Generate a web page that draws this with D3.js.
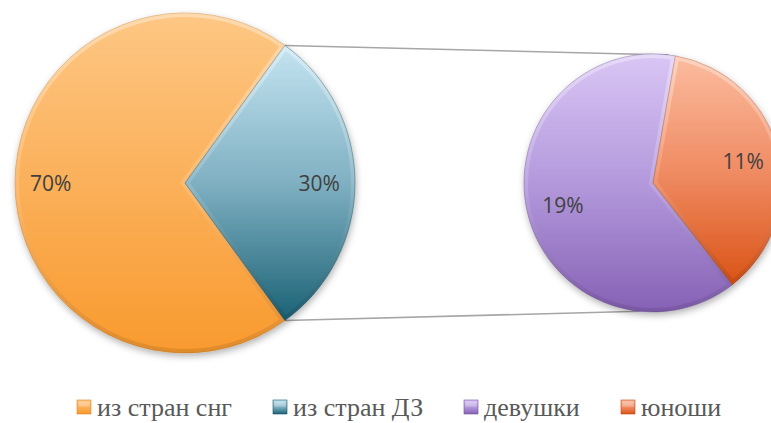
<!DOCTYPE html>
<html>
<head>
<meta charset="utf-8">
<script src="https://cdn.jsdelivr.net/npm/d3@7/dist/d3.min.js"></script>
<style>
  html, body { margin: 0; padding: 0; background: #ffffff; }
  svg { display: block; }
  .legend-text { font-family: "Liberation Serif", "DejaVu Serif", "Noto Serif", "Times New Roman", Times, serif; }
</style>
</head>
<body>
<svg id="chart" width="771" height="423"></svg>
<script>
// Main pie: origin of students
const mainCategories = ["из стран снг", "из стран ДЗ"];
const mainValues = [70, 30];
// Secondary pie: breakdown of the "из стран ДЗ" share
const subCategories = ["девушки", "юноши"];
const subValues = [19, 11];
const legendLabels = ["из стран снг", "из стран ДЗ", "девушки", "юноши"];

// gradient stops per category: [top, middle, bottom]
const palette = {
  "из стран снг": ["#fdc784", "#fbb05a", "#f99a2e"],
  "из стран ДЗ": ["#c4e4f1", "#7fb0c2", "#1b6275"],
  "девушки":      ["#dac6f5", "#b399dc", "#8661b5"],
  "юноши":        ["#fbbc9f", "#f08c64", "#da5316"]
};

const svg = d3.select("#chart");
const defs = svg.append("defs");

Object.entries(palette).forEach(([name, stops], i) => {
  const g = defs.append("linearGradient")
    .attr("id", "grad" + i).attr("x1", 0).attr("y1", 0).attr("x2", 0).attr("y2", 1);
  g.append("stop").attr("offset", "0%").attr("stop-color", stops[0]);
  g.append("stop").attr("offset", "50%").attr("stop-color", stops[1]);
  g.append("stop").attr("offset", "100%").attr("stop-color", stops[2]);
});
const gradId = name => "url(#grad" + Object.keys(palette).indexOf(name) + ")";

// rim shading for the bevelled look
const rim = defs.append("linearGradient").attr("id", "rim")
  .attr("x1", 0).attr("y1", 0).attr("x2", 0).attr("y2", 1);
rim.append("stop").attr("offset", "0%").attr("stop-color", "#ffffff").attr("stop-opacity", 0.35);
rim.append("stop").attr("offset", "55%").attr("stop-color", "#ffffff").attr("stop-opacity", 0.12);
rim.append("stop").attr("offset", "100%").attr("stop-color", "#000000").attr("stop-opacity", 0.10);

const shadow = defs.append("filter").attr("id", "shadow")
  .attr("filterUnits", "userSpaceOnUse")
  .attr("x", 0).attr("y", 0).attr("width", 771).attr("height", 423);
shadow.append("feDropShadow").attr("dx", 1).attr("dy", 3).attr("stdDeviation", 3.5)
  .attr("flood-color", "#000").attr("flood-opacity", 0.3);

const deg = Math.PI / 180;

const mainPie = { cx: 185, cy: 183, r: 170, start: 144 * deg, labelR: 0.79 };
const subPie  = { cx: 653, cy: 183, r: 129, start: 142 * deg, labelR: 0.72 };

function drawPie(cfg, cats, vals, key) {
  const arcs = d3.pie().sort(null)
    .startAngle(cfg.start).endAngle(cfg.start + 2 * Math.PI)(vals);
  const arc = d3.arc().innerRadius(0).outerRadius(cfg.r);
  const root = svg.append("g");
  const body = root.append("g").attr("filter", "url(#shadow)")
    .append("g").attr("transform", `translate(${cfg.cx},${cfg.cy})`);
  const g = root.append("g").attr("transform", `translate(${cfg.cx},${cfg.cy})`);

  arcs.forEach((a, i) => {
    const cid = `clip-${key}-${i}`;
    defs.append("clipPath").attr("id", cid)
      .append("path").attr("d", arc(a));
    body.append("path")
      .attr("d", arc(a))
      .attr("fill", gradId(cats[i]))
      .attr("stroke", d3.color(palette[cats[i]][2]).darker(0.6))
      .attr("stroke-width", 0.8)
      .attr("stroke-opacity", 0.6);
    // bevel rim, clipped to the slice
    g.append("path")
      .attr("d", arc(a))
      .attr("fill", "none")
      .attr("stroke", "url(#rim)")
      .attr("stroke-width", 8)
      .attr("clip-path", `url(#${cid})`);
  });

  const total = d3.sum(mainValues);
  const labelArc = d3.arc().innerRadius(cfg.r * cfg.labelR).outerRadius(cfg.r * cfg.labelR);
  arcs.forEach((a, i) => {
    const [x, y] = labelArc.centroid(a);
    g.append("text")
      .attr("x", x).attr("y", y)
      .attr("text-anchor", "middle").attr("dominant-baseline", "central")
      .attr("font-family", "'Open Sans', sans-serif").attr("font-size", 21)
      .attr("fill", "#404040")
      .text(Math.round(vals[i] / total * 100) + "%");
  });
  return arcs;
}

// Connector lines between the breakout slice and the secondary pie
const mainArcs = d3.pie().sort(null).startAngle(mainPie.start).endAngle(mainPie.start + 2 * Math.PI)(mainValues);
const brk = mainArcs[1];
const onCircle = (p, ang) => [p.cx + p.r * Math.sin(ang), p.cy - p.r * Math.cos(ang)];
const topA = onCircle(mainPie, brk.startAngle - 2 * Math.PI);
const botA = onCircle(mainPie, brk.endAngle - 2 * Math.PI);
const topB = onCircle(subPie, 7 * deg);
const botB = onCircle(subPie, 186 * deg);
svg.append("g").selectAll("line").data([[topA, topB], [botA, botB]]).join("line")
  .attr("x1", d => d[0][0]).attr("y1", d => d[0][1])
  .attr("x2", d => d[1][0]).attr("y2", d => d[1][1])
  .attr("stroke", "#a6a6a6").attr("stroke-width", 1.6);

drawPie(mainPie, mainCategories, mainValues, "main");
drawPie(subPie, subCategories, subValues, "sub");

// Legend
const legendX = [77, 273, 464, 621];
const legend = svg.append("g");
legendLabels.forEach((lab, i) => {
  legend.append("rect")
    .attr("x", legendX[i]).attr("y", 400).attr("width", 14).attr("height", 14)
    .attr("fill", gradId(lab))
    .attr("stroke", d3.color(palette[lab][2]).darker(0.4)).attr("stroke-width", 0.6);
  legend.append("rect")
    .attr("x", legendX[i] + 1.5).attr("y", 401.5).attr("width", 11).attr("height", 5)
    .attr("fill", "#ffffff").attr("opacity", 0.25);
  legend.append("text")
    .attr("class", "legend-text")
    .attr("x", legendX[i] + 20).attr("y", 416)
    .attr("font-size", 26).attr("fill", "#595959")
    .text(lab);
});
</script>
</body>
</html>
